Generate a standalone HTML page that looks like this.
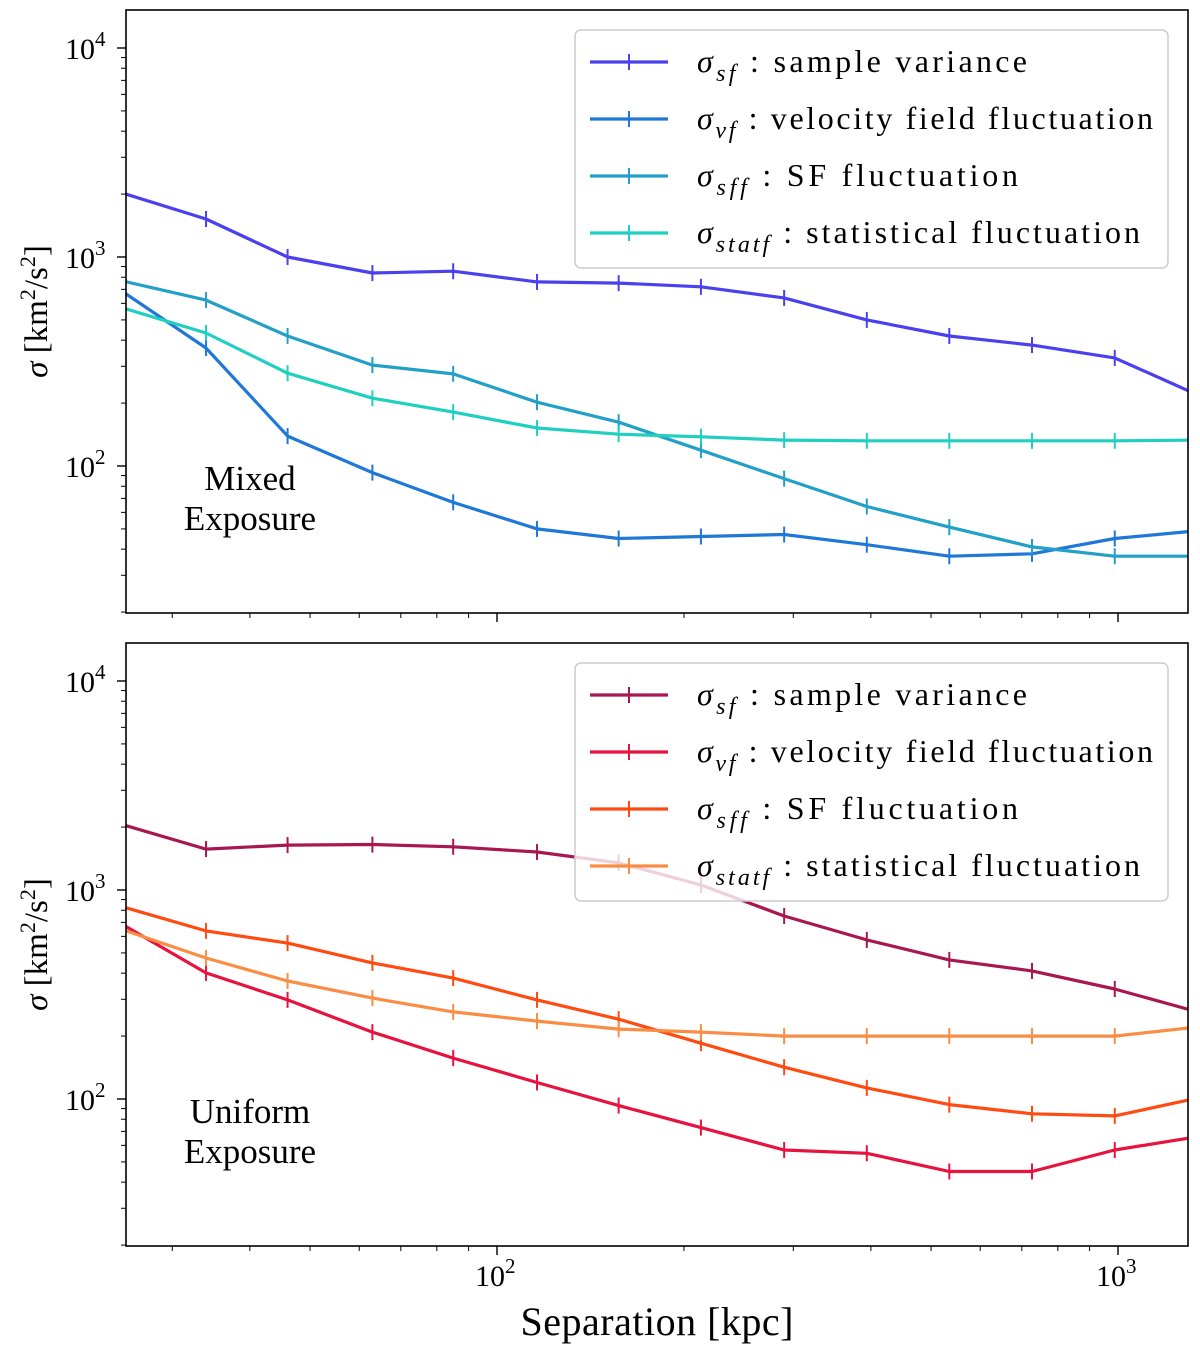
<!DOCTYPE html>
<html><head><meta charset="utf-8"><style>
body{margin:0;background:#fff}
svg{display:block;font-family:"Liberation Serif",serif}
</style></head><body>
<svg id="chart" width="1200" height="1352" viewBox="0 0 1200 1352" xmlns="http://www.w3.org/2000/svg"></svg>
<script>
const separations = [25, 34, 46, 63, 85, 116, 157, 213, 290, 394, 535, 727, 988, 1343];
const mixedSampleVar = [2020, 1520, 1000, 838, 855, 760, 750, 720, 637, 500, 419, 379, 329, 219];
const mixedVelocityField = [681, 367, 139, 93, 67, 50, 45, 46, 47, 42, 37, 38, 45, 49];
const mixedSF = [767, 622, 419, 304, 276, 202, 162, 119, 87, 64, 51, 41, 37, 37];
const mixedStat = [570, 433, 278, 211, 181, 152, 142, 138, 133, 132, 132, 132, 132, 133];
const uniformSampleVar = [2050, 1570, 1640, 1650, 1610, 1520, 1350, 1057, 751, 577, 463, 410, 336, 261];
const uniformVelocityField = [681, 401, 298, 209, 157, 120, 93, 73, 57, 55, 45, 45, 57, 66];
const uniformSF = [830, 637, 557, 448, 379, 298, 241, 185, 142, 113, 94, 85, 83, 101];
const uniformStat = [644, 473, 367, 304, 261, 236, 216, 209, 200, 200, 200, 200, 200, 221];
const legendLabels = [["sf"," : sample variance"],["vf"," : velocity field fluctuation"],["sff"," : SF fluctuation"],["statf"," : statistical fluctuation"]];
const legendWidths = [330, 456, 321, 443];
const yTickExps = [2, 3, 4];
const xTickExps = [2, 3];

const NS = "http://www.w3.org/2000/svg";
const svg = document.getElementById("chart");
const L = 126, R = 1188;
const xs = v => 497 + 621 * (Math.log10(v) - 2);
function mk(tag, attrs, parent) {
  const e = document.createElementNS(NS, tag);
  for (const k in attrs) e.setAttribute(k, attrs[k]);
  (parent || svg).appendChild(e);
  return e;
}
const defs = mk("defs", {});
function panel(top, bottom, y3, series, colors, names, note, pname, showX) {
  const ys = v => y3 - 209 * (Math.log10(v) - 3);
  const g = mk("g", {});
  
  
  const cp = mk("clipPath", {id: "clip-" + pname}, defs);
  mk("rect", {x: L, y: top, width: R - L, height: bottom - top}, cp);
  const sg = mk("g", {"clip-path": "url(#clip-" + pname + ")"}, g);
  series.forEach((arr, si) => {
    const pts = arr.map((v, i) => xs(separations[i]).toFixed(1) + "," + ys(v).toFixed(1)).join(" ");
    const line = mk("polyline", {points: pts, fill: "none", stroke: colors[si], "stroke-width": 3.2, "stroke-linejoin": "round"}, sg);
    
    
    arr.forEach((v, i) => {
      const x = xs(separations[i]), y = ys(v);
      const m = mk("line", {x1: x, x2: x, y1: y - 8, y2: y + 8, stroke: colors[si], "stroke-width": 2}, sg);
      
      
    });
  });
  const fr = mk("rect", {x: L, y: top, width: R - L, height: bottom - top, fill: "none", stroke: "#000", "stroke-width": 1.6}, g);
  
  
  for (let e = 1; e <= 4; e++) for (let k = 1; k <= 9; k++) {
    const v = k * Math.pow(10, e), y = ys(v);
    if (y < top || y > bottom) continue;
    mk("line", {x1: L - (k === 1 ? 9 : 5), x2: L, y1: y, y2: y, stroke: "#000", "stroke-width": k === 1 ? 1.4 : 1}, g);
  }
  yTickExps.forEach(e => {
    const t = mk("text", {x: 65, y: ys(Math.pow(10, e)) + 11, "font-size": 30}, g);
    
    
    t.innerHTML = '10<tspan dy="-13" font-size="21">' + e + '</tspan>';
  });
  for (let e = 1; e <= 3; e++) for (let k = 1; k <= 9; k++) {
    const v = k * Math.pow(10, e), x = xs(v);
    if (x < L || x > R) continue;
    mk("line", {x1: x, x2: x, y1: bottom, y2: bottom + (k === 1 ? 9 : 5), stroke: "#000", "stroke-width": k === 1 ? 1.4 : 1}, g);
  }
  if (showX) xTickExps.forEach(e => {
    const t = mk("text", {x: xs(Math.pow(10, e)) - 22, y: bottom + 40, "font-size": 30}, g);
    
    
    t.innerHTML = '10<tspan dy="-13" font-size="21">' + e + '</tspan>';
  });
  const cy = (top + bottom) / 2;
  const yl = mk("text", {x: 0, y: 0, "font-size": 33, "text-anchor": "middle", transform: "translate(47," + cy + ") rotate(-90)"}, g);
  
  
  yl.innerHTML = '<tspan font-style="italic">σ</tspan> [km<tspan dy="-12" font-size="22">2</tspan><tspan dy="12">/s</tspan><tspan dy="-12" font-size="22">2</tspan><tspan dy="12">]</tspan>';
  note.forEach((s, i) => {
    const t = mk("text", {x: 250, y: y3 + 233 + i * 40, "font-size": 35, "text-anchor": "middle"}, g);
    
    
    t.textContent = s;
  });
  const lg = mk("g", {}, g);
  
  
  mk("rect", {x: 575, y: top + 20, width: 593, height: 238, rx: 6, fill: "#fff", "fill-opacity": 0.8, stroke: "#ccc", "stroke-width": 1.5}, lg);
  legendLabels.forEach((lab, i) => {
    const y = top + 52 + i * 57;
    const le = mk("g", {}, lg);
    
    
    mk("line", {x1: 590, x2: 668, y1: y, y2: y, stroke: colors[i], "stroke-width": 3.2}, le);
    mk("line", {x1: 629, x2: 629, y1: y - 8, y2: y + 8, stroke: colors[i], "stroke-width": 2}, le);
    const t = mk("text", {x: 697, y: y + 10, "font-size": 32, textLength: legendWidths[i], lengthAdjust: "spacing"}, le);
    t.innerHTML = '<tspan font-style="italic">σ</tspan><tspan font-style="italic" font-size="24" dy="9">' + lab[0] + '</tspan><tspan dy="-9">' + lab[1] + '</tspan>';
  });
}
panel(10, 613, 257, [mixedSampleVar, mixedVelocityField, mixedSF, mixedStat],
  ["#4a40ee", "#1f78d8", "#22a0c8", "#1fcfc0"], ["sample-variance", "velocity-field", "sf-fluct", "stat-fluct"],
  ["Mixed", "Exposure"], "mixed", false);
panel(643, 1246, 890, [uniformSampleVar, uniformVelocityField, uniformSF, uniformStat],
  ["#a8174f", "#e8123e", "#ff4b12", "#f98d46"], ["sample-variance", "velocity-field", "sf-fluct", "stat-fluct"],
  ["Uniform", "Exposure"], "uniform", true);
const xl = mk("text", {x: 657, y: 1335, "font-size": 40, "text-anchor": "middle", textLength: 273, lengthAdjust: "spacing"});


xl.textContent = "Separation [kpc]";
</script>
</body></html>
